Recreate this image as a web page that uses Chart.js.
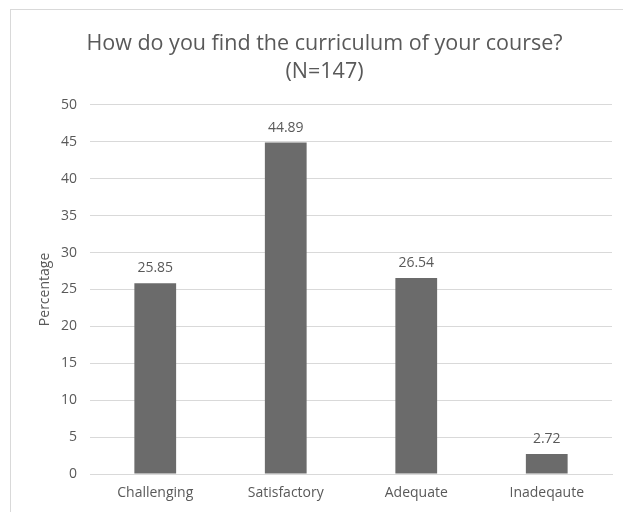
<!DOCTYPE html>
<html>
<head>
<meta charset="utf-8">
<script src="https://cdn.jsdelivr.net/npm/chart.js@4"></script>
<style>
  html, body { margin: 0; padding: 0; background: #ffffff; }
  #wrap { position: relative; width: 623px; height: 512px; overflow: hidden; }
  #frame { position: absolute; left: 10px; top: 9px; width: 620px; height: 520px; border: 1px solid #d9d9d9; box-sizing: border-box; }
  canvas { position: absolute; left: 0; top: 0; }
</style>
</head>
<body>
<div id="wrap">
  <div id="frame"></div>
  <canvas id="c" width="623" height="512"></canvas>
</div>
<script>
const categories = ["Challenging", "Satisfactory", "Adequate", "Inadeqaute"];
const percentages = [25.85, 44.89, 26.54, 2.72];
const valueLabels = ["25.85", "44.89", "26.54", "2.72"];
const titleLines = ["How do you find the curriculum of your course?", "(N=147)"];
const yAxisTitle = "Percentage";

const textColor = "#595959";
const fontFamily = "'Open Sans', 'Liberation Sans', sans-serif";

const valueLabelPlugin = {
  id: "valueLabels",
  afterDatasetsDraw(chart) {
    const ctx = chart.ctx;
    const meta = chart.getDatasetMeta(0);
    ctx.save();
    ctx.font = "14px " + fontFamily;
    ctx.fillStyle = textColor;
    ctx.textAlign = "center";
    ctx.textBaseline = "bottom";
    meta.data.forEach((bar, i) => {
      ctx.fillText(valueLabels[i], bar.x, bar.y - 8);
    });
    ctx.restore();
  }
};

new Chart(document.getElementById("c"), {
  type: "bar",
  data: {
    labels: categories,
    datasets: [{
      data: percentages,
      backgroundColor: "#6b6b6b",
      borderWidth: 0,
      categoryPercentage: 1.0,
      barPercentage: 0.32
    }]
  },
  options: {
    responsive: false,
    animation: false,
    devicePixelRatio: 1,
    layout: { padding: { left: 37, right: 11, top: 0, bottom: 0 } },
    plugins: {
      legend: { display: false },
      tooltip: { enabled: false },
      title: {
        display: true,
        text: titleLines,
        color: textColor,
        font: { family: fontFamily, size: 21.5, weight: "normal", lineHeight: 1.3 },
        padding: { top: 30, bottom: 19 }
      }
    },
    scales: {
      x: {
        grid: { display: false, drawTicks: false },
        border: { display: true, color: "#d9d9d9", width: 1 },
        ticks: { color: textColor, font: { family: fontFamily, size: 14 }, padding: 11 },
        afterFit(scale) { scale.height = 38; }
      },
      y: {
        min: 0,
        max: 50,
        ticks: { stepSize: 5, color: textColor, font: { family: fontFamily, size: 14 }, padding: 13 },
        grid: { color: "#d9d9d9", drawTicks: false },
        border: { display: false },
        title: {
          display: true,
          text: yAxisTitle,
          color: textColor,
          font: { family: fontFamily, size: 14 },
          padding: { top: 0, bottom: 0 }
        },
        afterFit(scale) { scale.width = 53; }
      }
    }
  },
  plugins: [valueLabelPlugin]
});
</script>
</body>
</html>
